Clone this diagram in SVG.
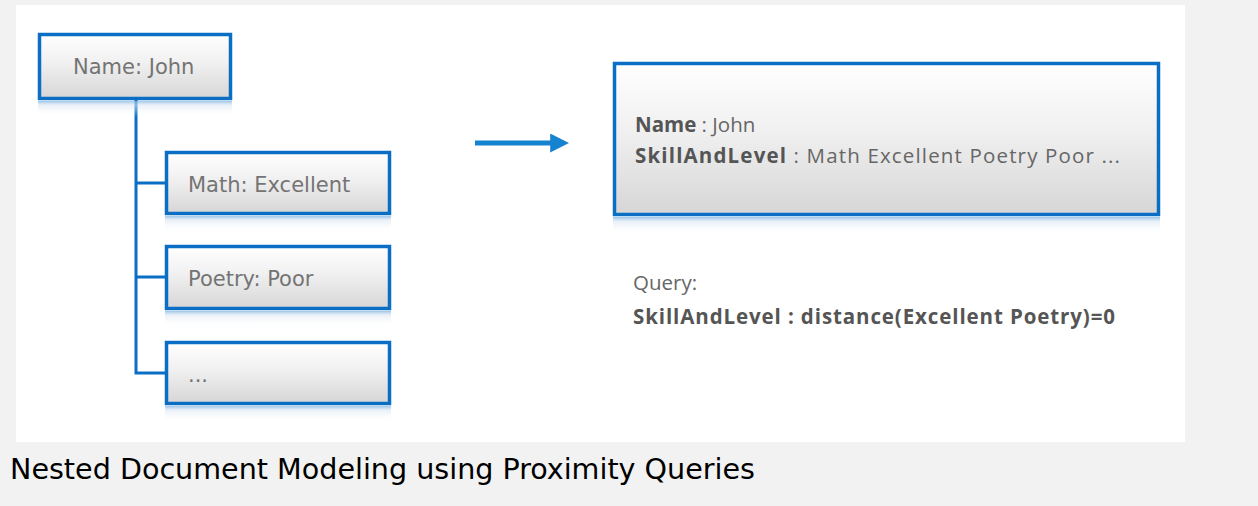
<svg xmlns="http://www.w3.org/2000/svg" width="1258" height="506" viewBox="0 0 1258 506">
<defs>
<linearGradient id="boxfill" x1="0" y1="0" x2="0" y2="1">
<stop offset="0" stop-color="#ffffff"/>
<stop offset="0.45" stop-color="#f0f0f0"/>
<stop offset="1" stop-color="#d6d6d6"/>
</linearGradient>
<linearGradient id="refl" x1="0" y1="0" x2="0" y2="1">
<stop offset="0" stop-color="#7fb3e3" stop-opacity="0.75"/>
<stop offset="0.25" stop-color="#d9e6f2" stop-opacity="0.6"/>
<stop offset="1" stop-color="#ffffff" stop-opacity="0"/>
</linearGradient>
<marker id="ah" viewBox="0 0 10 10" refX="2" refY="5" markerWidth="3.8" markerHeight="3.8" orient="auto" markerUnits="strokeWidth">
<path d="M0,0 L10,5 L0,10 z" fill="#1683d0"/>
</marker>
</defs>
<style>
.box{fill:url(#boxfill);stroke:#0a6fc4;stroke-width:3.5}
.refl{fill:url(#refl)}
.lbl{font-family:"DejaVu Sans",sans-serif;font-size:21px;fill:#747474}
.rt{font-family:"Open Sans","Noto Sans",sans-serif;font-size:20.5px;fill:#666666}
.b{font-weight:bold;fill:#555555}
.conn{fill:none;stroke:#0a6fc4;stroke-width:3}
</style>
<rect x="0" y="0" width="1258" height="506" fill="#f2f2f2"/>
<rect x="16" y="5" width="1169" height="437" fill="#ffffff"/>

<g id="connectors">
<path class="conn" d="M136,100 V373 M134.5,183 H166 M134.5,277 H166 M134.5,373 H166"/>
<line x1="475" y1="143" x2="554" y2="143" stroke="#1683d0" stroke-width="5" marker-end="url(#ah)"/>
</g>

<g id="node-name">
<rect class="refl" x="38" y="101" width="194" height="16"/>
<rect class="box" x="39.5" y="34.5" width="191" height="64"/>
<text class="lbl" x="73" y="74">Name: John</text>
</g>

<g id="node-math">
<rect class="refl" x="165" y="216" width="226" height="16"/>
<rect class="box" x="166.5" y="152.5" width="223" height="61"/>
<text class="lbl" x="188" y="192">Math:  Excellent</text>
</g>

<g id="node-poetry">
<rect class="refl" x="165" y="311" width="226" height="16"/>
<rect class="box" x="166.5" y="246.5" width="223" height="62"/>
<text class="lbl" x="188" y="286">Poetry: Poor</text>
</g>

<g id="node-more">
<rect class="refl" x="165" y="406" width="226" height="16"/>
<rect class="box" x="166.5" y="342.5" width="223" height="61"/>
<text class="lbl" x="188" y="382">...</text>
</g>

<g id="node-doc">
<rect class="refl" x="613" y="217" width="547" height="18"/>
<rect class="box" x="614.5" y="63.5" width="544" height="151"/>
<text class="rt" x="635" y="132"><tspan class="b">Name</tspan> : John</text>
<text class="rt" x="635" y="163" textLength="485" lengthAdjust="spacing"><tspan class="b">SkillAndLevel</tspan>  : Math  Excellent Poetry Poor ...</text>
</g>

<g id="query">
<text class="rt" x="633" y="290">Query:</text>
<text class="rt b" x="633" y="324" textLength="482" lengthAdjust="spacing">SkillAndLevel  : distance(Excellent  Poetry)=0</text>
</g>

<text x="10" y="479" font-family="DejaVu Sans Condensed, DejaVu Sans, sans-serif" font-stretch="condensed" font-size="28" fill="#000000" textLength="745" lengthAdjust="spacingAndGlyphs">Nested Document Modeling using Proximity Queries</text>
</svg>
